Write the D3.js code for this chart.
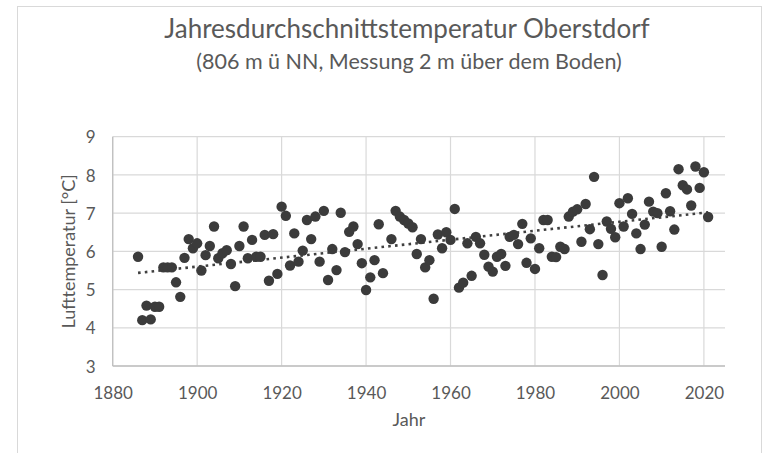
<!DOCTYPE html>
<html>
<head>
<meta charset="utf-8">
<title>Jahresdurchschnittstemperatur Oberstdorf</title>
<script src="https://cdn.jsdelivr.net/npm/d3@7"></script>
<style>
    body { margin: 0; background: #fff; }
    text { font-family: Lato, "Open Sans", sans-serif; fill: #595959; }
</style>
</head>
<body>
<svg id="chart" width="771" height="453"></svg>
<script>
    // Jahresmittel Oberstdorf (1945 fehlt)
    var years = [1886, 1887, 1888, 1889, 1890, 1891, 1892, 1893, 1894, 1895, 1896, 1897, 1898, 1899,
        1900, 1901, 1902, 1903, 1904, 1905, 1906, 1907, 1908, 1909, 1910, 1911, 1912, 1913, 1914, 1915,
        1916, 1917, 1918, 1919, 1920, 1921, 1922, 1923, 1924, 1925, 1926, 1927, 1928, 1929, 1930, 1931,
        1932, 1933, 1934, 1935, 1936, 1937, 1938, 1939, 1940, 1941, 1942, 1943, 1944, 1946, 1947, 1948,
        1949, 1950, 1951, 1952, 1953, 1954, 1955, 1956, 1957, 1958, 1959, 1960, 1961, 1962, 1963, 1964,
        1965, 1966, 1967, 1968, 1969, 1970, 1971, 1972, 1973, 1974, 1975, 1976, 1977, 1978, 1979, 1980,
        1981, 1982, 1983, 1984, 1985, 1986, 1987, 1988, 1989, 1990, 1991, 1992, 1993, 1994, 1995, 1996,
        1997, 1998, 1999, 2000, 2001, 2002, 2003, 2004, 2005, 2006, 2007, 2008, 2009, 2010, 2011, 2012,
        2013, 2014, 2015, 2016, 2017, 2018, 2019, 2020, 2021];
    var temps = [5.86, 4.20, 4.58, 4.22, 4.55, 4.55, 5.58, 5.58, 5.58, 5.19, 4.81, 5.83, 6.32, 6.08,
        6.21, 5.50, 5.90, 6.14, 6.65, 5.82, 5.95, 6.03, 5.67, 5.09, 6.14, 6.65, 5.82, 6.30, 5.86, 5.86,
        6.43, 5.23, 6.45, 5.41, 7.17, 6.93, 5.63, 6.47, 5.73, 6.02, 6.82, 6.32, 6.91, 5.73, 7.06, 5.25,
        6.06, 5.51, 7.01, 5.98, 6.51, 6.65, 6.19, 5.69, 4.99, 5.32, 5.77, 6.71, 5.43, 6.32, 7.06, 6.91,
        6.82, 6.73, 6.63, 5.93, 6.32, 5.58, 5.77, 4.76, 6.44, 6.08, 6.50, 6.30, 7.11, 5.05, 5.18, 6.21,
        5.36, 6.38, 6.21, 5.91, 5.60, 5.47, 5.86, 5.93, 5.62, 6.38, 6.43, 6.19, 6.72, 5.70, 6.34, 5.54,
        6.08, 6.82, 6.82, 5.86, 5.85, 6.12, 6.06, 6.91, 7.04, 7.10, 6.25, 7.24, 6.58, 7.95, 6.19, 5.38,
        6.78, 6.59, 6.37, 7.26, 6.65, 7.39, 6.98, 6.47, 6.06, 6.70, 7.30, 7.04, 7.00, 6.12, 7.52, 7.05,
        6.57, 8.15, 7.73, 7.62, 7.20, 8.22, 7.66, 8.07, 6.90];
    var xTicks = [1880, 1900, 1920, 1940, 1960, 1980, 2000, 2020];
    var yTicks = [3, 4, 5, 6, 7, 8, 9];

    var svg = d3.select("#chart");
    var pLeft = 112.7, pRight = 725, pTop = 136.7, pBottom = 366;

    var x = d3.scaleLinear().domain([1880, 2025]).range([pLeft, pRight]);
    var y = d3.scaleLinear().domain([3, 9]).range([pBottom, pTop]);

    // Rahmen des Diagramms
    svg.append("rect")
        .attr("x", 17.5).attr("y", 6.5)
        .attr("width", 744).attr("height", 460)
        .style("fill", "none").style("stroke", "#d9d9d9");

    // Gitter
    svg.append("g").selectAll("line")
        .data(yTicks)
        .enter().append("line")
        .attr("x1", pLeft).attr("x2", pRight)
        .attr("y1", function (d) { return y(d); }).attr("y2", function (d) { return y(d); })
        .style("stroke", "#d9d9d9").style("stroke-width", 1.2);
    svg.append("g").selectAll("line")
        .data(xTicks)
        .enter().append("line")
        .attr("x1", function (d) { return x(d); }).attr("x2", function (d) { return x(d); })
        .attr("y1", pTop).attr("y2", pBottom)
        .style("stroke", "#d9d9d9").style("stroke-width", 1.2);

    // Achsen
    svg.append("line").attr("x1", pLeft).attr("x2", pRight).attr("y1", pBottom).attr("y2", pBottom)
        .style("stroke", "#bfbfbf").style("stroke-width", 1.3);
    svg.append("line").attr("x1", pLeft).attr("x2", pLeft).attr("y1", pTop).attr("y2", pBottom)
        .style("stroke", "#bfbfbf").style("stroke-width", 1.3);

    var xAxis = d3.axisBottom(x).tickValues(xTicks).tickSize(0).tickPadding(0).tickFormat(d3.format("d"));
    var gx = svg.append("g").attr("transform", "translate(0," + (pBottom + 33) + ")").call(xAxis);
    var yAxis = d3.axisLeft(y).tickValues(yTicks).tickSize(0).tickPadding(0).tickFormat(d3.format("d"));
    var gy = svg.append("g").attr("transform", "translate(" + (pLeft - 17) + ",0)").call(yAxis);
    [gx, gy].forEach(function (g) {
        g.select(".domain").remove();
        g.selectAll("text").style("font-size", "17px").style("fill", "#595959")
            .style("font-family", "Lato, sans-serif");
    });
    gx.selectAll("text").attr("dy", null).attr("y", 0);
    gy.selectAll("text").attr("dy", "0.36em");

    // Trendlinie (lineare Regression)
    var reg = d3.range(years.length).map(function (i) { return [years[i], temps[i]]; });
    var mx = d3.mean(years), my = d3.mean(temps);
    var sxy = d3.sum(reg, function (p) { return (p[0] - mx) * (p[1] - my); });
    var sxx = d3.sum(years, function (t) { return (t - mx) * (t - mx); });
    var slope = sxy / sxx, icpt = my - slope * mx;
    svg.append("path")
        .datum(d3.extent(years))
        .attr("d", d3.line()
            .x(function (d) { return x(d); })
            .y(function (d) { return y(icpt + slope * d); }))
        .style("fill", "none").style("stroke", "#404040")
        .style("stroke-width", 2.6).style("stroke-dasharray", "2.6,4.2");

    // Punkte
    svg.append("g").selectAll("circle")
        .data(reg)
        .enter().append("circle")
        .attr("cx", function (d) { return x(d[0]); })
        .attr("cy", function (d) { return y(d[1]); })
        .attr("r", 5.2)
        .style("fill", "#3b3b3b");

    // Titel
    svg.append("text").attr("x", 407).attr("y", 38).attr("text-anchor", "middle")
        .style("font-size", "26px")
        .text("Jahresdurchschnittstemperatur Oberstdorf");
    svg.append("text").attr("x", 409).attr("y", 69).attr("text-anchor", "middle")
        .style("font-size", "21.5px")
        .text("(806 m ü NN, Messung 2 m über dem Boden)");

    // Achsentitel
    svg.append("text").attr("x", (pLeft + pRight) / 2 - 10).attr("y", 426).attr("text-anchor", "middle")
        .style("font-size", "18px").text("Jahr");
    svg.append("text")
        .attr("transform", "translate(75," + ((pTop + pBottom) / 2) + ") rotate(-90)")
        .attr("text-anchor", "middle")
        .style("font-size", "18px").text("Lufttemperatur [°C]");
</script>
</body>
</html>
